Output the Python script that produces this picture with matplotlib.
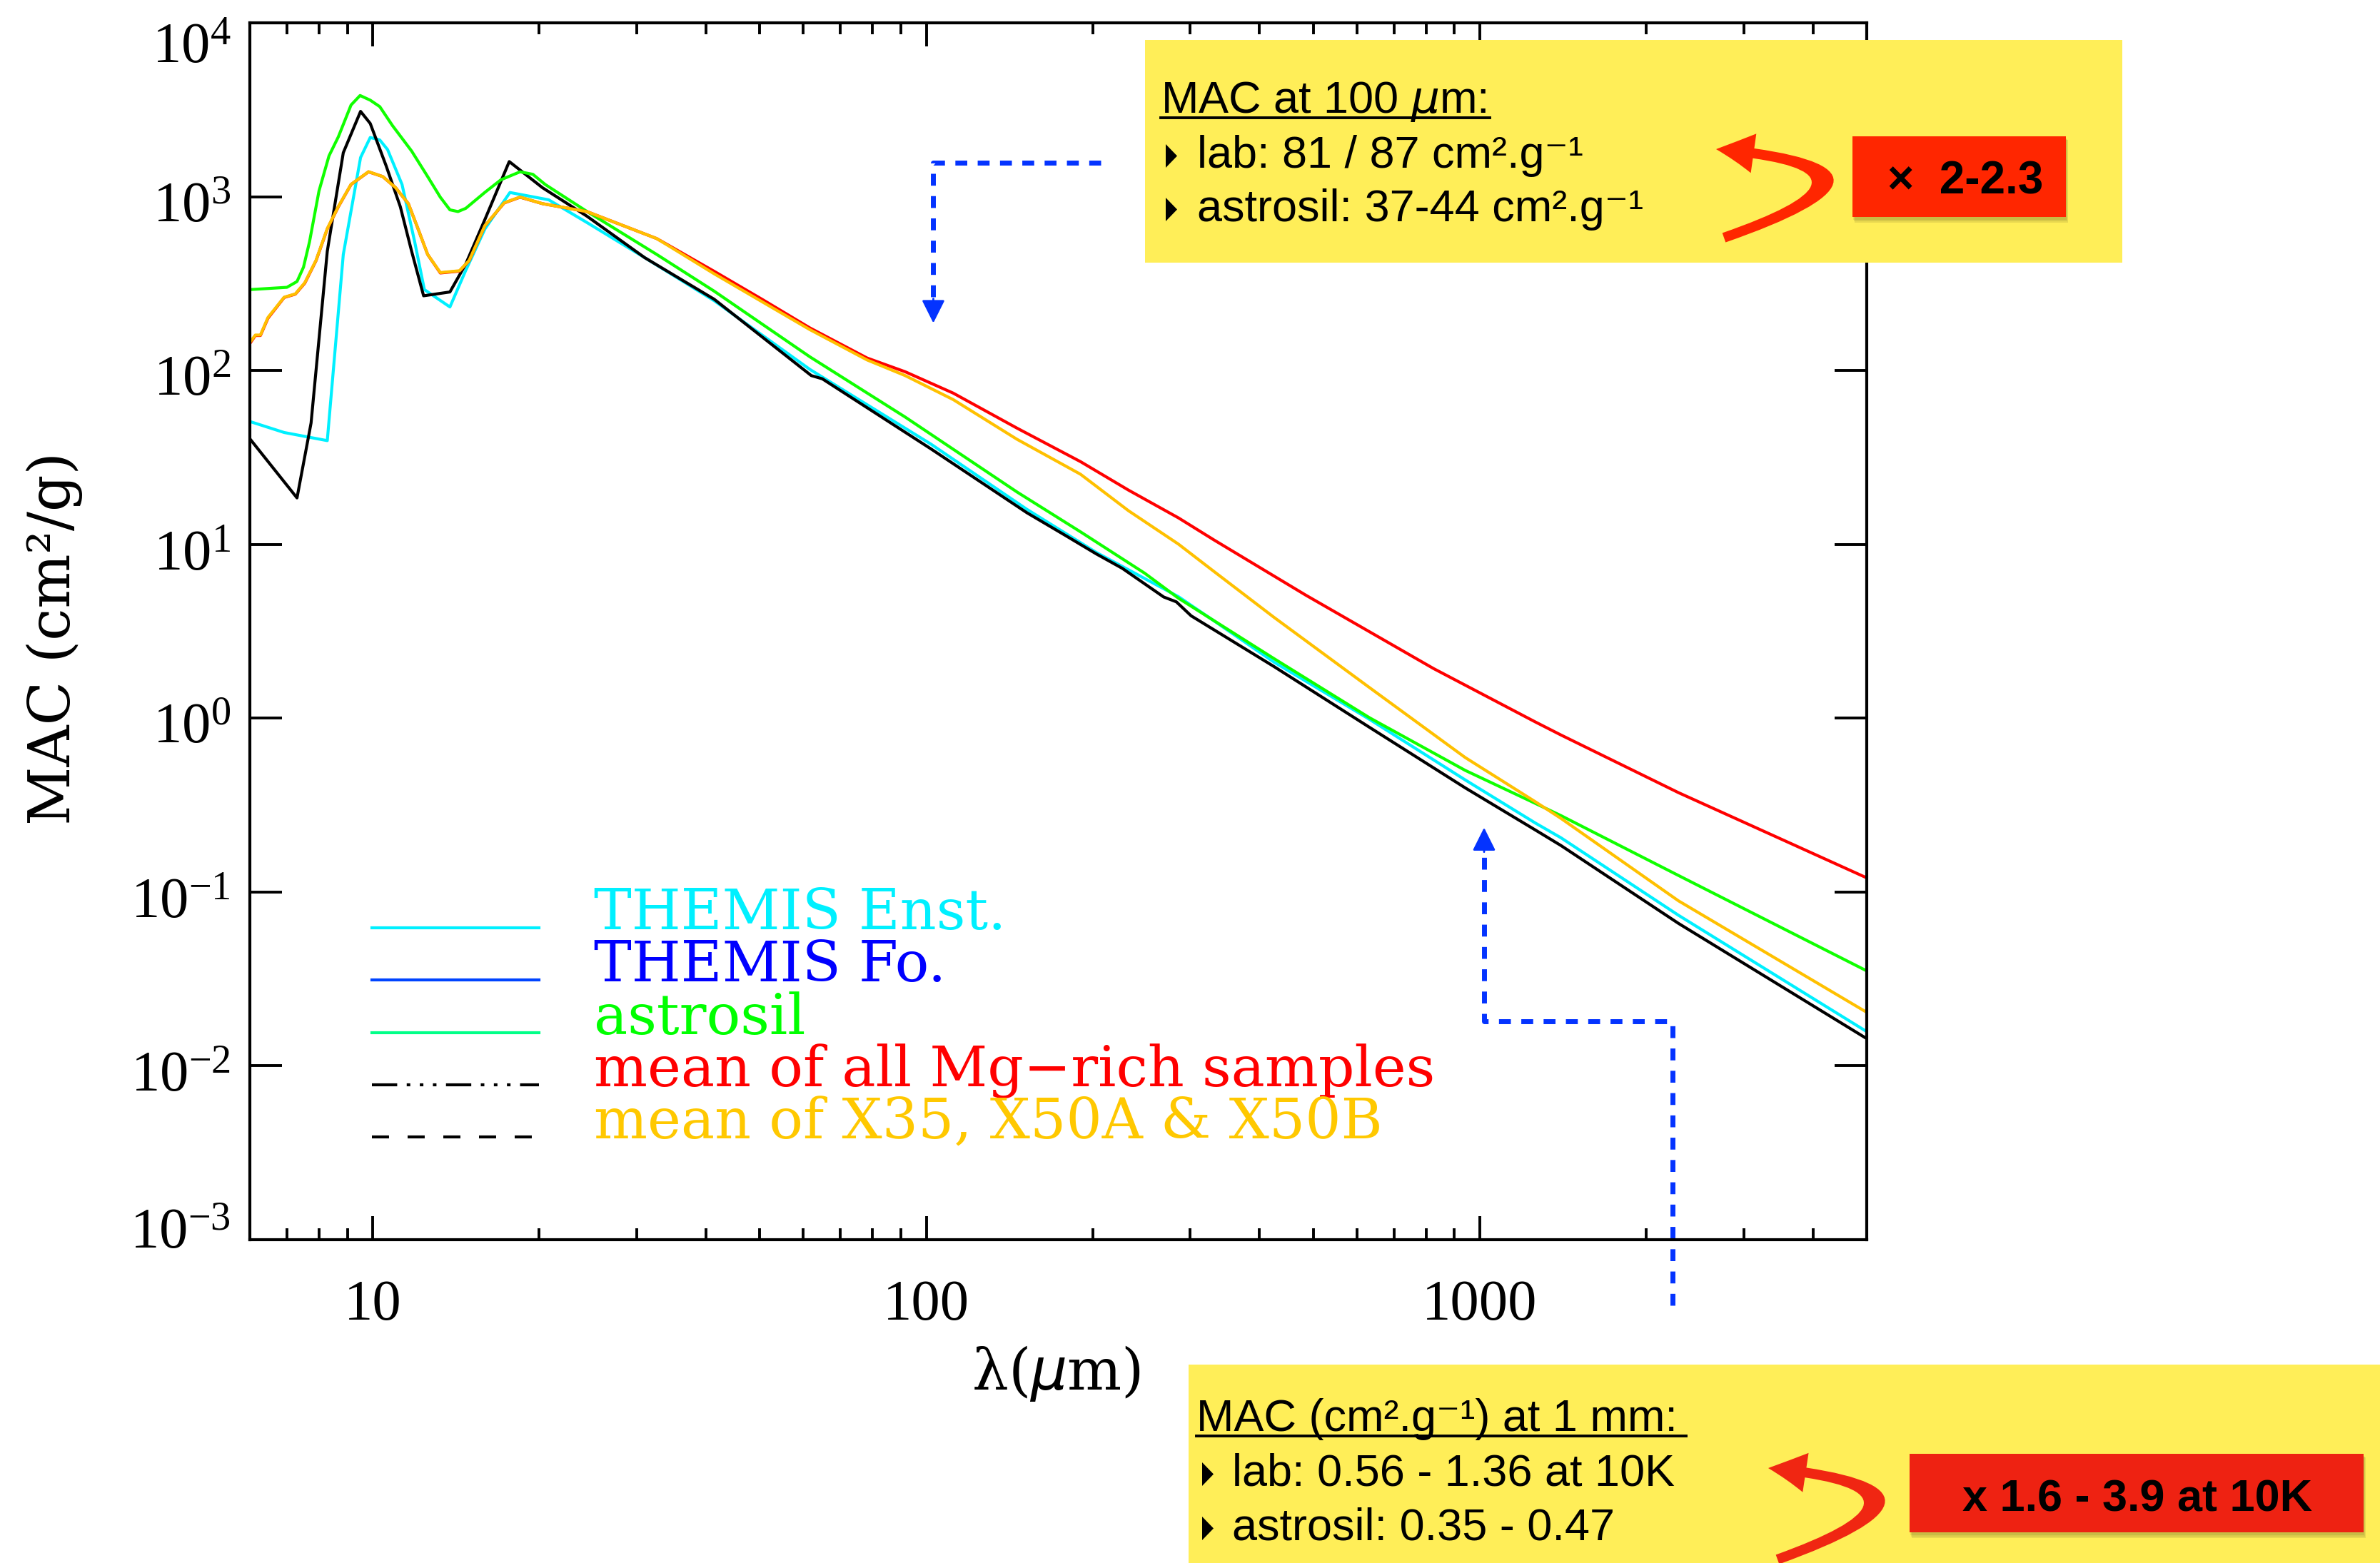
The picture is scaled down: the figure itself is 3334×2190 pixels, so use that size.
import numpy as np
import matplotlib
matplotlib.use("Agg")
import matplotlib.pyplot as plt
from matplotlib.lines import Line2D
from matplotlib.patches import Rectangle, Polygon, FancyArrowPatch, ArrowStyle
from matplotlib.path import Path
from matplotlib.ticker import FixedLocator, FixedFormatter, NullLocator, LogLocator, NullFormatter
from matplotlib.transforms import ScaledTranslation

W, H = 3334, 2190
DPI = 200

plt.rcParams['font.family'] = ['Liberation Serif', 'DejaVu Serif']


def fx(x):
    return x / W


def fy(y):
    return 1 - y / H


# ---- curves (wavelength in micron, MAC in cm2/g) ----
lam_enst = [6.0, 6.92, 8.28, 8.85, 9.51, 9.9, 10.3, 10.64, 11.3, 11.91, 12.4, 13.79, 14.73,
            15.95, 17.7, 20.8, 24.4, 31.0, 41.4, 61.6, 102, 152, 203, 285.5, 331, 425,
            632, 941, 1261, 1402, 2285, 4990]
mac_enst = [50.9, 44, 39.5, 465, 1680, 2190, 2120, 1866, 1175, 550, 292, 232, 377,
            652, 1057, 959, 709, 446, 252, 101.6, 37.7, 15.9, 8.97, 5.0, 3.63, 2.1,
            0.985, 0.4416, 0.249, 0.205, 0.0735, 0.0158]

lam_fo = [6.0, 7.3, 7.74, 8.28, 8.85, 9.51, 9.9, 10.57, 11.22, 11.76, 12.36, 13.79, 14.73,
          15.95, 17.65, 20.26, 24.4, 31.0, 41.4, 62.0, 64.9, 102, 152, 178, 203, 226,
          268.5, 283, 301, 425, 632, 941, 1261, 1402, 2285, 4990]
mac_fo = [40.5, 18.5, 49.9, 485, 1790, 3095, 2637, 1513, 875, 485, 269, 283, 410,
          739, 1592, 1127, 771, 446, 257, 93.5, 89.6, 35.4, 15.2, 11.3, 8.8, 7.28,
          4.98, 4.67, 3.88, 1.98, 0.886, 0.3975, 0.227, 0.185, 0.066, 0.0144]

lam_astro = [6.0, 7.0, 7.3, 7.5, 7.69, 8.0, 8.34, 8.67, 9.14, 9.49, 9.9, 10.3, 10.86, 11.76,
             12.57, 13.25, 13.79, 14.26, 14.73, 15.95, 17.05, 18.46, 19.47, 20.5, 24.4,
             32.6, 41.4, 61.6, 91.6, 145.9, 190, 248, 285.5, 425, 632, 941, 1261, 1402,
             2285, 4990]
mac_astro = [292, 301, 325, 393, 550, 1080, 1718, 2210, 3366, 3820, 3590, 3296, 2563, 1830,
             1305, 993, 840, 821, 857, 1059, 1251, 1390, 1345, 1175, 821,
             465, 286, 120, 54, 20, 11.8, 6.83, 4.9, 2.2, 1.006, 0.501, 0.323, 0.275,
             0.1245, 0.0353]

lam_mg = [6.0, 6.14, 6.27, 6.47, 6.92, 7.25, 7.54, 7.9, 8.28, 8.67, 9.14, 9.83, 10.43, 11.0,
          11.6, 12.08, 12.57, 13.25, 14.35, 14.94, 15.95, 17.28, 18.46, 20.26, 24.4, 32.6,
          41.4, 50.5, 61.6, 78.2, 91.6, 111.9, 145.9, 190, 232, 285.5, 331, 485, 825,
          1261, 1402, 2285, 4990]
mac_mg = [143, 159, 159, 200, 263, 275, 318, 428, 652, 875, 1175, 1390, 1305, 1127,
          912, 652, 465, 364, 373, 428, 680, 920, 993, 912, 820, 574,
          372, 257, 176, 118, 98.4, 74.1, 46.6, 29.9, 20.5, 14.2, 10.6, 5.1, 1.93,
          0.95, 0.80, 0.373, 0.121]

lam_x = [6.0, 6.14, 6.27, 6.47, 6.92, 7.25, 7.54, 7.9, 8.28, 8.67, 9.14, 9.83, 10.43, 11.0,
         11.6, 12.08, 12.57, 13.25, 14.35, 14.94, 15.95, 17.28, 18.46, 20.26, 24.4, 32.6,
         41.4, 61.6, 78.2, 91.6, 111.9, 145.9, 190, 232, 285.5, 331, 425, 632, 941,
         1261, 1402, 2285, 4990]
mac_x = [145, 160, 160, 202, 264, 276, 320, 430, 655, 878, 1178, 1392, 1305, 1127,
         912, 652, 465, 366, 375, 430, 682, 922, 995, 912, 820, 574,
         360, 172, 115, 93.5, 68, 40.2, 25.3, 15.6, 10.03, 6.98, 3.8, 1.50, 0.594,
         0.33, 0.265, 0.089, 0.0204]

xticks = [10, 100, 1000]
xtick_labels = ['10', '100', '1000']
yticks = [1e-3, 1e-2, 1e-1, 1e0, 1e1, 1e2, 1e3, 1e4]
ytick_labels = [r'$\mathdefault{10^{-3}}$', r'$\mathdefault{10^{-2}}$', r'$\mathdefault{10^{-1}}$',
                r'$\mathdefault{10^{0}}$', r'$\mathdefault{10^{1}}$', r'$\mathdefault{10^{2}}$',
                r'$\mathdefault{10^{3}}$', r'$\mathdefault{10^{4}}$']

legend_labels = ['THEMIS Enst.', 'THEMIS Fo.', 'astrosil',
                 'mean of all Mg\u2212rich samples', 'mean of X35, X50A & X50B']
legend_text_colors = ['#00F0FF', '#0000FF', '#00FF00', '#FF0000', '#FFC800']
legend_line_colors = ['#00F0FF', '#0044FF', '#00FF88', 'black', 'black']
legend_line_styles = ['-', '-', '-', (0, (8.5, 3.2, 1.2, 3.2, 1.2, 3.2, 1.2, 3.2)), (0, (5.75, 6.25))]

# annotation anchors (data coordinates)
arrow100_x = [206.5, 103, 103]
arrow100_y = [1575, 1575, 259]
arrow100_tip = (103, 187.5)
arrow1mm_x = [2228, 2228, 1018, 1018]
arrow1mm_y = [4.2e-4, 0.0181, 0.0181, 0.170]
arrow1mm_tip = (1018, 0.2346)

BLUE = '#0433FF'
YELLOW = '#FFEE58'

fig = plt.figure(figsize=(W / DPI, H / DPI), dpi=DPI)
ax = fig.add_axes([350 / W, 1 - 1737 / H, 2265 / W, 1705 / H])

ax.plot(lam_enst, mac_enst, color='#00F0FF', lw=1.5)
ax.plot(lam_fo, mac_fo, color='black', lw=1.5)
ax.plot(lam_astro, mac_astro, color='#10FF00', lw=1.5)
ax.plot(lam_mg, mac_mg, color='#FF0000', lw=1.5)
ax.plot(lam_x, mac_x, color='#FFC000', lw=1.5)

ax.set_xscale('log')
ax.set_yscale('log')
ax.set_xlim(6, 5000)
ax.set_ylim(1e-3, 1e4)

ax.xaxis.set_major_locator(FixedLocator(xticks))
ax.xaxis.set_major_formatter(FixedFormatter(xtick_labels))
ax.xaxis.set_minor_locator(LogLocator(base=10, subs=np.arange(2, 10)))
ax.xaxis.set_minor_formatter(NullFormatter())
ax.yaxis.set_major_locator(FixedLocator(yticks))
ax.yaxis.set_major_formatter(FixedFormatter(ytick_labels))
ax.yaxis.set_minor_locator(NullLocator())

for s in ax.spines.values():
    s.set_linewidth(1.5)
ax.tick_params(which='both', direction='in', top=True, right=True, width=1.4)
ax.tick_params(axis='x', which='major', length=11.9, pad=20, labelsize=29)
ax.tick_params(axis='x', which='minor', length=5.8)
ax.tick_params(axis='y', which='major', length=16.2, pad=9.7, labelsize=29)

# IDL-style: end labels pulled inside the axis range
yt = ax.yaxis.get_major_ticks()
for t in yt:
    t.label1.set_transform(t.label1.get_transform() + ScaledTranslation(0, -8 / DPI, fig.dpi_scale_trans))
yt[-1].label1.set_transform(yt[-1].label1.get_transform() + ScaledTranslation(0, -20 / DPI, fig.dpi_scale_trans))
yt[0].label1.set_transform(yt[0].label1.get_transform() + ScaledTranslation(0, 23 / DPI, fig.dpi_scale_trans))

fig.text(fx(76), fy(894), 'MAC (cm\u00b2/g)', rotation=90, ha='center', va='center',
         fontsize=29, family=['DejaVu Serif'])
fig.text(fx(1480), fy(1925), '\u03bb($\\mu$m)', ha='center', va='center',
         fontsize=29, family=['DejaVu Serif'])

# legend drawn the IDL way: short line samples + coloured text
for i, (lab, tc, lc, ls) in enumerate(zip(legend_labels, legend_text_colors,
                                          legend_line_colors, legend_line_styles)):
    yy = 1300 + i * 73.3
    fig.add_artist(Line2D([fx(521), fx(755)], [fy(yy), fy(yy)], color=lc, lw=1.5, ls=ls,
                          transform=fig.transFigure))
    fig.text(fx(832), fy(yy + 2), lab, color=tc, fontsize=28.5, va='baseline',
             family=['DejaVu Serif'])

# blue dashed pointers
ax.plot(arrow100_x, arrow100_y, color=BLUE, lw=2.5, ls=(0, (2.4, 2.1)), clip_on=False)
ax.annotate('', xy=arrow100_tip, xytext=(arrow100_x[-1], arrow100_y[-1]),
            arrowprops=dict(arrowstyle='-|>,head_length=10,head_width=5', color=BLUE, lw=1,
                            mutation_scale=1, shrinkA=0, shrinkB=0))
ax.plot(arrow1mm_x, arrow1mm_y, color=BLUE, lw=2.5, ls=(0, (2.4, 2.1)), clip_on=False)
ax.annotate('', xy=arrow1mm_tip, xytext=(arrow1mm_x[-1], arrow1mm_y[-1]),
            arrowprops=dict(arrowstyle='-|>,head_length=10,head_width=5', color=BLUE, lw=1,
                            mutation_scale=1, shrinkA=0, shrinkB=0), annotation_clip=False)

SANS = ['Liberation Sans', 'DejaVu Sans']


def add_box(x0, y0, x1, y1, color, z=5):
    fig.add_artist(Rectangle((fx(x0), fy(y1)), fx(x1) - fx(x0), fy(y0) - fy(y1),
                             transform=fig.transFigure, facecolor=color, edgecolor='none', zorder=z))


def add_shadowed_box(x0, y0, x1, y1, color):
    # soft drop shadow: a few stacked translucent layers
    for k, a in enumerate([0.10, 0.10, 0.12]):
        add_box(x0 + 1 + k, y0 + 3 + k, x1 + 1 + k, y1 + 4 + 2 * k, (0.3, 0.28, 0.1, a), z=6)
    add_box(x0, y0, x1, y1, color, z=7)


def bullet(x, base):
    fig.add_artist(Polygon([(fx(x), fy(base - 33)), (fx(x), fy(base)), (fx(x + 16), fy(base - 16.5))],
                           closed=True, transform=fig.transFigure, facecolor='black',
                           edgecolor='none', zorder=8))


def underline(x0, x1, y):
    fig.add_artist(Line2D([fx(x0), fx(x1)], [fy(y), fy(y)], color='black', lw=1.4,
                          transform=fig.transFigure, zorder=8))


def curved_arrow(p0, p1, p2, color):
    path = Path([(fx(p0[0]), fy(p0[1])), (fx(p1[0]), fy(p1[1])), (fx(p2[0]), fy(p2[1]))],
                [Path.MOVETO, Path.CURVE3, Path.CURVE3])
    fig.add_artist(FancyArrowPatch(path=path, transform=fig.transFigure,
                                   arrowstyle=ArrowStyle.Simple(head_length=19, head_width=20,
                                                                tail_width=5),
                                   mutation_scale=1, facecolor=color, edgecolor='none', zorder=8))


# top box: MAC at 100 micron
add_box(1604, 56, 2973, 368, YELLOW)
fig.text(fx(1626), fy(158), 'MAC at 100 $\\mu$m:', fontsize=22.7, family=SANS, va='baseline', zorder=9)
underline(1626, 2087, 165)
bullet(1633, 235)
fig.text(fx(1677), fy(235), 'lab: 81 / 87 cm\u00b2.g\u207b\u00b9', fontsize=22.7, family=SANS,
         va='baseline', zorder=9)
bullet(1633, 310)
fig.text(fx(1677), fy(310), 'astrosil: 37-44 cm\u00b2.g\u207b\u00b9', fontsize=22.7, family=SANS,
         va='baseline', zorder=9)
add_shadowed_box(2595, 191, 2894, 304, '#FF2600')
fig.text(fx(2753), fy(272), '\u00d7  2-2.3', fontsize=23, weight='bold', family=SANS,
         ha='center', va='baseline', zorder=9)
curved_arrow((2415, 333), (2697, 235), (2404, 209), '#FF2600')

# bottom box: MAC at 1 mm
add_box(1665, 1912, 3334, 2190, YELLOW)
fig.text(fx(1676), fy(2005), 'MAC (cm\u00b2.g\u207b\u00b9) at 1 mm:', fontsize=22.7, family=SANS,
         va='baseline', zorder=9)
underline(1676, 2362, 2012)
bullet(1684, 2082)
fig.text(fx(1726), fy(2082), 'lab: 0.56 - 1.36 at 10K', fontsize=22.7, family=SANS,
         va='baseline', zorder=9)
bullet(1684, 2158)
fig.text(fx(1726), fy(2158), 'astrosil: 0.35 - 0.47', fontsize=22.7, family=SANS,
         va='baseline', zorder=9)
add_shadowed_box(2675, 2037, 3311, 2147, '#EE2212')
fig.text(fx(2994), fy(2117), 'x 1.6 - 3.9 at 10K', fontsize=22.7, weight='bold', family=SANS,
         ha='center', va='baseline', zorder=9)
curved_arrow((2490, 2185), (2768, 2085), (2477, 2057), '#F02612')

fig.savefig('out.png', dpi=DPI)
